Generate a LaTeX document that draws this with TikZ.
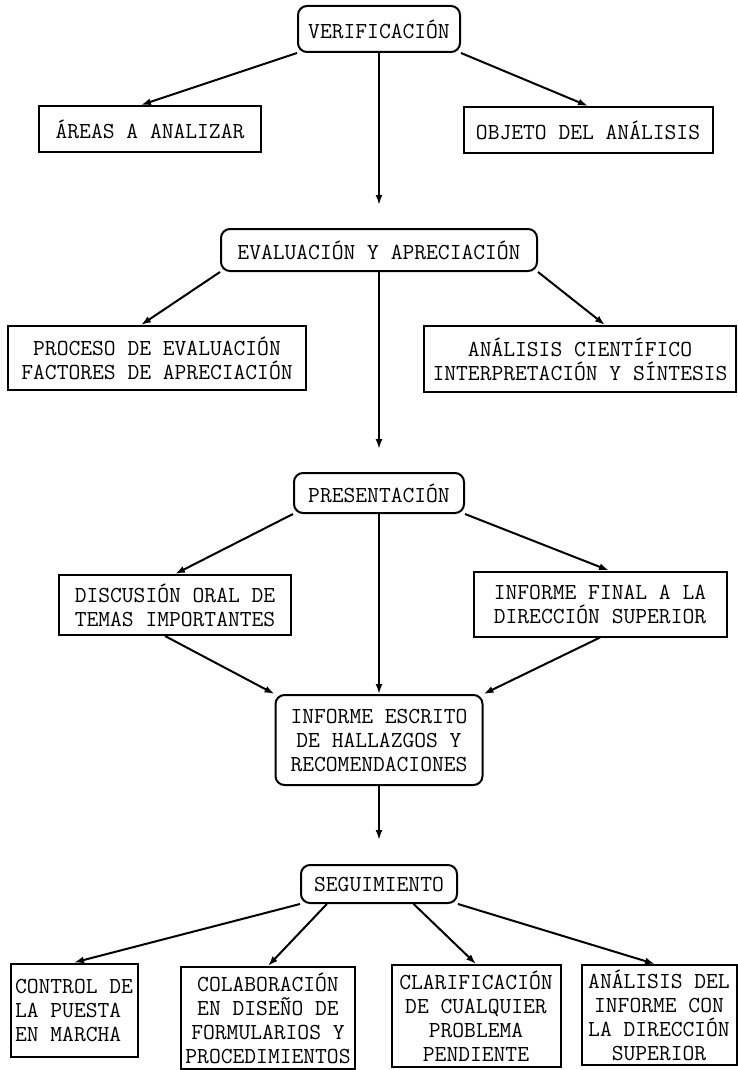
\documentclass[tikz,border=0pt]{standalone}
\usepackage{tikz}
\usetikzlibrary{arrows.meta}
\newcommand{\letra}{\fontsize{22.9}{24}\selectfont\ttfamily}

\begin{document}
\begin{tikzpicture}[x=1pt, y=-1pt, every node/.style={font=\letra, align=center, inner sep=0pt}, >={Latex[length=10pt, width=7pt]},
	caja/.style={draw, line width=2pt}, redonda/.style={caja, rounded corners=9pt}, flecha/.style={->, line width=2pt}]
	\useasboundingbox (0,0) rectangle (738,1070);
	% primer nivel
	\node[redonda, minimum width=162pt, minimum height=46pt] (verif) at (379,29) {VERIFICACIÓN};
	\node[caja, minimum width=222pt, minimum height=46pt] (areas) at (150,129) {ÁREAS A ANALIZAR};
	\node[caja, minimum width=249pt, minimum height=46pt] (objeto) at (588,130) {OBJETO DEL ANÁLISIS};
	% segundo nivel
	\node[redonda, minimum width=316pt, minimum height=42pt] (eval) at (379,250) {EVALUACIÓN Y APRECIACIÓN};
	\node[caja, minimum width=298pt, minimum height=64pt] (proceso) at (157,358) {PROCESO DE EVALUACIÓN\\FACTORES DE APRECIACIÓN};
	\node[caja, minimum width=312pt, minimum height=66pt] (analisis) at (580,359) {ANÁLISIS CIENTÍFICO\\INTERPRETACIÓN Y SÍNTESIS};
	% tercer nivel
	\node[redonda, minimum width=170pt, minimum height=40pt] (present) at (379,493) {PRESENTACIÓN};
	\node[caja, minimum width=232pt, minimum height=60pt] (discusion) at (175,605) {DISCUSIÓN ORAL DE\\TEMAS IMPORTANTES};
	\node[caja, minimum width=253pt, minimum height=65pt] (final) at (600,604) {INFORME FINAL A LA\\DIRECCIÓN SUPERIOR};
	\node[redonda, minimum width=207pt, minimum height=90pt] (escrito) at (379,740) {INFORME ESCRITO\\DE HALLAZGOS Y\\RECOMENDACIONES};
	% seguimiento
	\node[redonda, minimum width=156pt, minimum height=38pt] (seguim) at (379,884) {SEGUIMIENTO};
	\node[caja, minimum width=127pt, minimum height=93pt, align=left] (control) at (74,1010) {CONTROL DE\\LA PUESTA\\EN MARCHA};
	\node[caja, minimum width=174pt, minimum height=102pt] (colab) at (268,1018) {COLABORACIÓN\\EN DISEÑO DE\\FORMULARIOS Y\\PROCEDIMIENTOS};
	\node[caja, minimum width=169pt, minimum height=102pt] (clarif) at (476,1016) {CLARIFICACIÓN\\DE CUALQUIER\\PROBLEMA\\PENDIENTE};
	\node[caja, minimum width=155pt, minimum height=100pt] (analdir) at (659,1015) {ANÁLISIS DEL\\INFORME CON\\LA DIRECCIÓN\\SUPERIOR};
	% flechas
	\draw[flecha] (verif.south west) -- ([xshift=-9pt]areas.north);
	\draw[flecha] (verif.south east) -- (objeto.north);
	\draw[flecha, shorten >=23pt] (verif) -- (eval);
	\draw[flecha] (eval.south west) -- ([xshift=-16pt]proceso.north);
	\draw[flecha] (eval.south east) -- ([xshift=25pt]analisis.north);
	\draw[flecha, shorten >=23pt] (eval) -- (present);
	\draw[flecha] (present.south west) -- (discusion.north);
	\draw[flecha] (present.south east) -- ([xshift=9pt]final.north);
	\draw[flecha] (present) -- (escrito);
	\draw[flecha] ([xshift=-10pt]discusion.south) -- (escrito.north west);
	\draw[flecha] (final.south) -- (escrito.north east);
	\draw[flecha, shorten >=24pt] (escrito) -- (seguim);
	\draw[flecha] (seguim.south west) -- (control.north);
	\draw[flecha] (seguim.201) -- (colab.north);
	\draw[flecha] (seguim.330) -- (clarif.north);
	\draw[flecha] (seguim.south east) -- ([xshift=-4pt]analdir.north);
\end{tikzpicture}
\end{document}
